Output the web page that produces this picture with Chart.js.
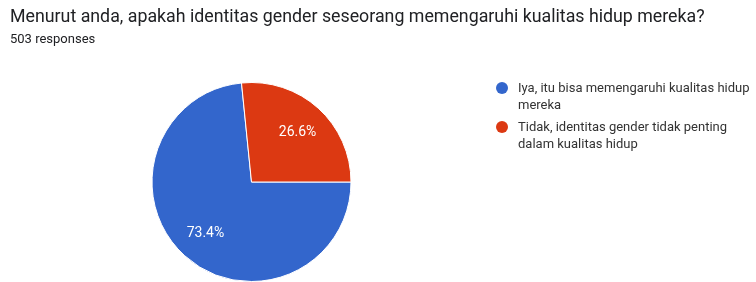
<!DOCTYPE html>
<html>
<head>
<meta charset="utf-8">
<script src="https://cdn.jsdelivr.net/npm/chart.js@4/dist/chart.umd.min.js"></script>
<style>
	body { margin: 0; background: #fff; }
	#wrap { position: relative; width: 756px; height: 282px; overflow: hidden; }
	#canvas { position: absolute; left: 0; top: 0; }
	#title { position: absolute; left: 10px; top: 5px; font: 17.8px Roboto, sans-serif; color: #202124; white-space: nowrap; }
	#sub { position: absolute; left: 10px; top: 31px; font: 13px Roboto, sans-serif; color: #202124; }
	#legend { position: absolute; left: 496px; top: 79px; font: 13px Roboto, sans-serif; color: #333; }
	.item { position: relative; padding-left: 22px; line-height: 17px; margin-bottom: 5px; white-space: nowrap; }
	.dot { position: absolute; left: 0; top: 3px; width: 12px; height: 12px; border-radius: 50%; }
</style>
</head>
<body>
<div id="wrap">
	<canvas id="canvas" width="756" height="282"></canvas>
	<div id="title"></div>
	<div id="sub"></div>
	<div id="legend"></div>
</div>
<script>
const titleText = "Menurut anda, apakah identitas gender seseorang memengaruhi kualitas hidup mereka?";
const responses = "503 responses";
const labels = [
	["Iya, itu bisa memengaruhi kualitas hidup", "mereka"],
	["Tidak, identitas gender tidak penting", "dalam kualitas hidup"]
];
const values = [73.4, 26.6];
const colors = ["#3366cc", "#dc3912"];

document.getElementById('title').textContent = titleText;
document.getElementById('sub').textContent = responses;

// Legend (html, so lines wrap like the original)
const legendEl = document.getElementById('legend');
for (let i = 0; i < labels.length; i++) {
	const item = document.createElement('div');
	item.className = 'item';
	const dot = document.createElement('span');
	dot.className = 'dot';
	dot.style.background = colors[i];
	item.appendChild(dot);
	item.appendChild(document.createTextNode(labels[i][0]));
	item.appendChild(document.createElement('br'));
	item.appendChild(document.createTextNode(labels[i][1]));
	legendEl.appendChild(item);
}

// Percent labels inside slices
const sliceLabels = {
	id: 'sliceLabels',
	afterDatasetsDraw(chart) {
		const ctx = chart.ctx;
		const meta = chart.getDatasetMeta(0);
		ctx.save();
		ctx.font = '14px Roboto, sans-serif';
		ctx.fillStyle = '#fff';
		ctx.textAlign = 'center';
		ctx.textBaseline = 'middle';
		meta.data.forEach((arc, i) => {
			const p = arc.getProps(['x', 'y', 'startAngle', 'endAngle', 'outerRadius'], true);
			const mid = (p.startAngle + p.endAngle) / 2;
			const r = p.outerRadius * 0.69;
			ctx.fillText(values[i].toFixed(1) + '%', p.x + Math.cos(mid) * r, p.y + Math.sin(mid) * r + 1);
		});
		ctx.restore();
	}
};

const ctx = document.getElementById('canvas').getContext('2d');
new Chart(ctx, {
	type: 'pie',
	data: {
		labels: labels.map(l => l.join(' ')),
		datasets: [{
			data: values,
			backgroundColor: colors,
			borderColor: '#fff',
			borderWidth: 1
		}]
	},
	options: {
		responsive: false,
		animation: false,
		rotation: 90,
		layout: { padding: { left: 151, right: 404, top: 82, bottom: 0 } },
		plugins: {
			legend: { display: false },
			tooltip: { enabled: false }
		}
	},
	plugins: [sliceLabels]
});
</script>
</body>
</html>
